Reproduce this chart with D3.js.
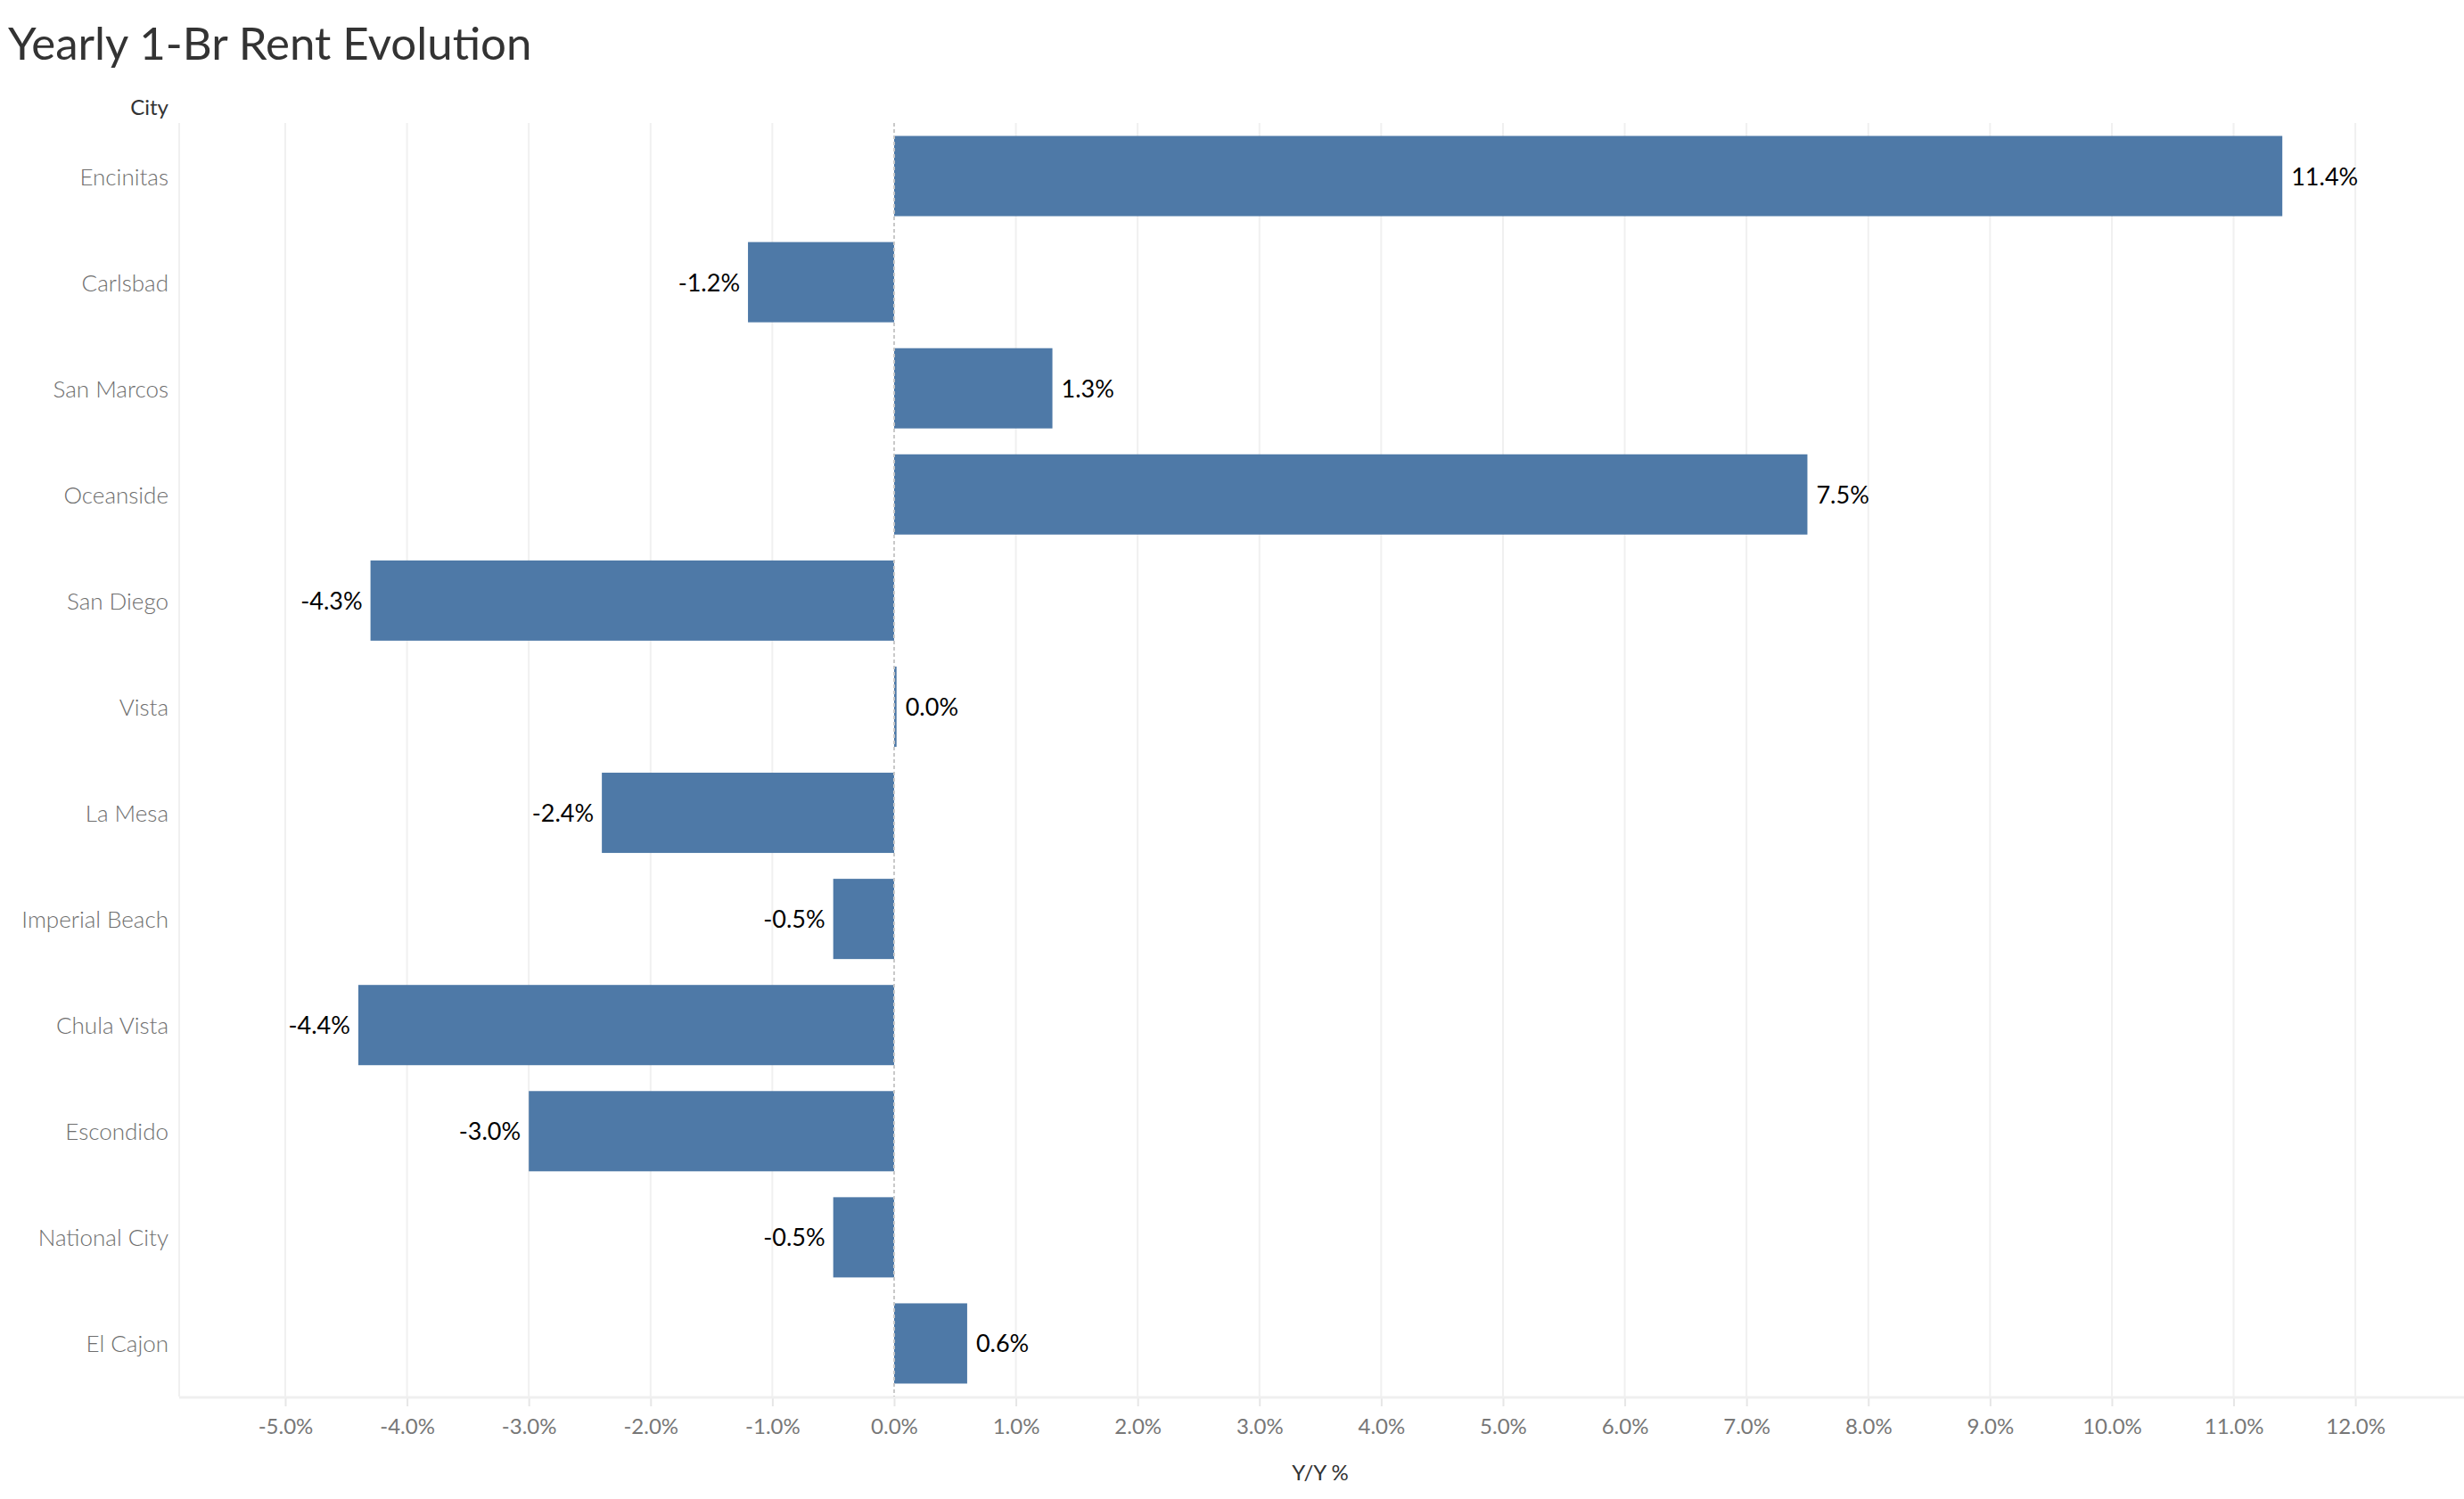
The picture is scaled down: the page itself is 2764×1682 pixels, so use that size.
<!DOCTYPE html>
<html>
<head>
<meta charset="utf-8">
<script src="https://cdn.jsdelivr.net/npm/d3@7"></script>
<style>
  body { margin: 0; background: #fff; }
  text { font-family: Lato, "Noto Sans", sans-serif; }
</style>
</head>
<body>
<script>
// Chart data
const cities = ['Encinitas', 'Carlsbad', 'San Marcos', 'Oceanside', 'San Diego', 'Vista',
	'La Mesa', 'Imperial Beach', 'Chula Vista', 'Escondido', 'National City', 'El Cajon']
const yoy = [11.4, -1.2, 1.3, 7.5, -4.3, 0.02, -2.4, -0.5, -4.4, -3.0, -0.5, 0.6]
const tickValues = [-5, -4, -3, -2, -1, 0, 1, 2, 3, 4, 5, 6, 7, 8, 9, 10, 11, 12]

const width = 2764
const height = 1682
const plot = { left: 201, right: 2764, top: 138, bottom: 1567 }

const data = cities.map((c, i) => ({ city: c, value: yoy[i] }))
const pct = v => v.toFixed(1) + '%'

const svg = d3.select('body').append('svg').attr('width', width).attr('height', height)

// Title
svg.append('text')
	.attr('x', 9).attr('y', 67)
	.attr('font-size', 51)
	.attr('fill', '#333')
	.text('Yearly 1-Br Rent Evolution')

// Scales
const x = d3.scaleLinear().domain([-5.871, 12.892]).range([plot.left, plot.right])
const y = d3.scaleBand().domain(cities).range([plot.top, plot.bottom]).paddingInner(0.244).paddingOuter(0.122)

// Vertical gridlines
svg.append('g')
	.selectAll('line')
	.data(tickValues.filter(d => d !== 0))
	.enter()
	.append('line')
	.attr('x1', d => x(d)).attr('x2', d => x(d))
	.attr('y1', plot.top).attr('y2', plot.bottom)
	.attr('stroke', '#f0f0f0')
	.attr('stroke-width', 2)

// left border of the pane
svg.append('line')
	.attr('x1', plot.left).attr('x2', plot.left)
	.attr('y1', plot.top).attr('y2', plot.bottom)
	.attr('stroke', '#f0f0f0').attr('stroke-width', 2)

// Bottom axis
const xAxis = d3.axisBottom(x)
	.tickValues(tickValues)
	.tickFormat(pct)
	.tickSize(10)
	.tickPadding(14)
const gx = svg.append('g').attr('transform', `translate(0,${plot.bottom + 1})`).call(xAxis)
gx.select('.domain').remove()
gx.selectAll('.tick line').attr('stroke', '#e6e6e6').attr('stroke-width', 2)
gx.selectAll('.tick text').attr('font-size', 24).attr('fill', '#777').attr('font-family', 'Lato, sans-serif')

svg.append('line')
	.attr('x1', plot.left).attr('x2', plot.right)
	.attr('y1', plot.bottom + 1).attr('y2', plot.bottom + 1)
	.attr('stroke', '#efefef').attr('stroke-width', 3)

// Axis title
svg.append('text')
	.attr('x', 1481).attr('y', 1661)
	.attr('text-anchor', 'middle')
	.attr('font-size', 24)
	.attr('fill', '#333')
	.text('Y/Y %')

// Row header
svg.append('text')
	.attr('x', 189).attr('y', 129)
	.attr('text-anchor', 'end')
	.attr('font-size', 24)
	.attr('fill', '#333')
	.text('City')

// Category labels
svg.append('g')
	.selectAll('text')
	.data(cities)
	.enter()
	.append('text')
	.attr('x', 189)
	.attr('y', d => y(d) + y.bandwidth() / 2 + 10)
	.attr('text-anchor', 'end')
	.attr('font-size', 26)
	.attr('font-weight', 300)
	.attr('fill', '#6e6e6e')
	.text(d => d)

// Bars
svg.append('g')
	.selectAll('rect')
	.data(data)
	.enter()
	.append('rect')
	.attr('x', d => x(Math.min(0, d.value)))
	.attr('y', d => y(d.city))
	.attr('width', d => Math.max(2, Math.abs(x(d.value) - x(0))))
	.attr('height', y.bandwidth())
	.attr('fill', '#4e79a7')

// Zero line (dashed)
svg.append('line')
	.attr('x1', x(0)).attr('x2', x(0))
	.attr('y1', plot.top).attr('y2', plot.bottom)
	.attr('stroke', '#c8c8c8')
	.attr('stroke-width', 2)
	.attr('stroke-dasharray', '4,3')

// Value labels
svg.append('g')
	.selectAll('text')
	.data(data)
	.enter()
	.append('text')
	.attr('x', d => d.value >= 0 ? x(d.value) + 10 : x(d.value) - 9)
	.attr('y', d => y(d.city) + y.bandwidth() / 2 + 10)
	.attr('text-anchor', d => d.value >= 0 ? 'start' : 'end')
	.attr('font-size', 27)
	.attr('fill', '#000')
	.text(d => pct(d.value))
</script>
</body>
</html>
